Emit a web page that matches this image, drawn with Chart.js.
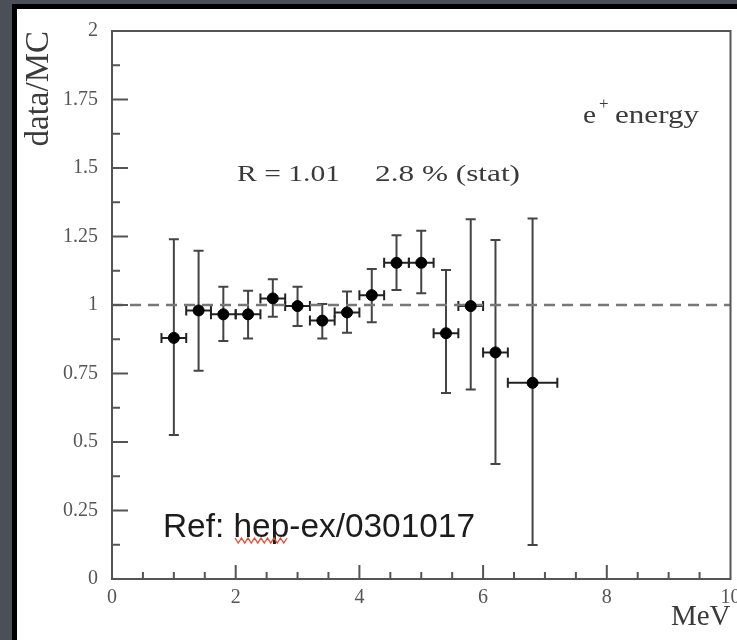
<!DOCTYPE html>
<html>
<head>
<meta charset="utf-8">
<script src="https://cdn.jsdelivr.net/npm/chart.js@4.4.1/dist/chart.umd.min.js"></script>
<style>
    html, body { margin: 0; padding: 0; background: #4b4f58; }
    #wrap { width: 737px; height: 640px; }
</style>
</head>
<body>
<div id="wrap"><canvas id="ratio-chart" width="737" height="640"></canvas></div>
<script>
// e+ energy bins (MeV): centre and half width
const binCentres = [1.0, 1.4, 1.8, 2.2, 2.6, 3.0, 3.4, 3.8, 4.2, 4.6, 5.0, 5.4, 5.8, 6.2, 6.8];
const binHalfWidths = [0.2, 0.2, 0.2, 0.2, 0.2, 0.2, 0.2, 0.2, 0.2, 0.2, 0.2, 0.2, 0.2, 0.2, 0.4];
// data/MC ratio and the ends of its error bars
const ratioValues = [0.88, 0.98, 0.966, 0.966, 1.024, 0.996, 0.943, 0.973, 1.036, 1.154, 1.154, 0.897, 0.996, 0.827, 0.716];
const ratioHigh = [1.24, 1.198, 1.067, 1.052, 1.094, 1.067, 1.004, 1.049, 1.131, 1.255, 1.271, 1.128, 1.313, 1.237, 1.316];
const ratioLow = [0.526, 0.76, 0.869, 0.878, 0.957, 0.923, 0.878, 0.899, 0.937, 1.055, 1.043, 0.679, 0.692, 0.42, 0.124];
// reference line and tick labels
const unityLevel = 1;
const yTickLabels = ['0', '0.25', '0.5', '0.75', '1', '1.25', '1.5', '1.75', '2'];
const xTickLabels = ['0', '2', '4', '6', '8', '10'];

const serif = '"Liberation Serif", "DejaVu Serif", serif';

// dark slide background, black frame and white panel
const backdrop = {
    id: 'backdrop',
    beforeDraw: (chart) => {
        const { ctx, width, height } = chart;
        ctx.save();
        ctx.fillStyle = '#4b4f58';
        ctx.fillRect(0, 0, width, height);
        ctx.fillStyle = '#000';
        ctx.fillRect(12, 4, width - 12, height - 4);
        ctx.fillStyle = '#fff';
        ctx.fillRect(17, 9, width - 17, height - 9);
        ctx.restore();
    }
};

// vertical and horizontal error bars, drawn under the markers
const errorBars = {
    id: 'errorBars',
    beforeDatasetsDraw: (chart) => {
        const { ctx, scales: { x, y } } = chart;
        ctx.save();
        ctx.lineWidth = 2;
        binCentres.forEach((c, i) => {
            const px = x.getPixelForValue(c);
            const py = y.getPixelForValue(ratioValues[i]);
            const top = y.getPixelForValue(ratioHigh[i]);
            const bot = y.getPixelForValue(ratioLow[i]);
            const left = x.getPixelForValue(c - binHalfWidths[i]);
            const right = x.getPixelForValue(c + binHalfWidths[i]);
            ctx.strokeStyle = '#444';
            ctx.beginPath();
            ctx.moveTo(px, top); ctx.lineTo(px, bot);
            ctx.moveTo(px - 5, top); ctx.lineTo(px + 5, top);
            ctx.moveTo(px - 5, bot); ctx.lineTo(px + 5, bot);
            ctx.stroke();
            ctx.strokeStyle = '#222';
            ctx.beginPath();
            ctx.moveTo(left, py); ctx.lineTo(right, py);
            ctx.moveTo(left, py - 5); ctx.lineTo(left, py + 5);
            ctx.moveTo(right, py - 5); ctx.lineTo(right, py + 5);
            ctx.stroke();
        });
        ctx.restore();
    }
};

// box round the plot and inward ticks
const axisFrame = {
    id: 'axisFrame',
    afterDraw: (chart) => {
        const { ctx, chartArea: a, scales: { x, y } } = chart;
        ctx.save();
        ctx.strokeStyle = '#555';
        ctx.lineWidth = 2;
        ctx.strokeRect(a.left, a.top, a.right - a.left, a.bottom - a.top);
        ctx.beginPath();
        for (let i = 1; i <= 16; i++) {
            const py = y.getPixelForValue(i * 0.125);
            ctx.moveTo(a.left, py);
            ctx.lineTo(a.left + (i % 2 === 0 ? 16 : 8), py);
        }
        for (let i = 1; i < 20; i++) {
            const px = x.getPixelForValue(i * 0.5);
            ctx.moveTo(px, a.bottom);
            ctx.lineTo(px, a.bottom - (i % 4 === 0 ? 14 : 7));
        }
        ctx.stroke();
        ctx.restore();
    }
};

// draws text stretched to a given width
const fitText = (ctx, text, x, y, width) => {
    const w = ctx.measureText(text).width;
    ctx.save();
    ctx.translate(x, y);
    ctx.scale(width / w, 1);
    ctx.fillText(text, 0, 0);
    ctx.restore();
};

// labels inside the frame
const notes = {
    id: 'notes',
    afterDraw: (chart) => {
        const { ctx } = chart;
        ctx.save();
        ctx.textBaseline = 'alphabetic';
        ctx.textAlign = 'left';
        ctx.fillStyle = '#3a3a3a';
        ctx.font = `24px ${serif}`;
        fitText(ctx, 'R = 1.01', 237, 181, 103);
        fitText(ctx, '2.8 % (stat)', 375, 181, 145);

        ctx.font = `26px ${serif}`;
        fitText(ctx, 'e', 583, 123, 13);
        fitText(ctx, 'energy', 615, 123, 84);
        ctx.font = `17px ${serif}`;
        ctx.fillText('+', 599, 109);

        ctx.fillStyle = '#1c1c1c';
        ctx.font = '33px "Liberation Sans", Arial, sans-serif';
        fitText(ctx, 'Ref: hep-ex/0301017', 163, 537, 312);

        // spell-check squiggle under "hep"
        ctx.strokeStyle = '#e8492f';
        ctx.lineWidth = 1.3;
        ctx.beginPath();
        for (let i = 0, px = 235; px <= 287; i++, px += 3.25) {
            const py = i % 2 === 0 ? 538 : 543;
            if (i === 0) ctx.moveTo(px, py); else ctx.lineTo(px, py);
        }
        ctx.stroke();
        ctx.restore();
    }
};

const points = binCentres.map((c, i) => ({ x: c, y: ratioValues[i] }));

new Chart(document.getElementById('ratio-chart'), {
    type: 'scatter',
    data: {
        datasets: [{
            label: 'data/MC',
            data: points,
            backgroundColor: '#000',
            borderColor: '#000',
            pointRadius: 5.5,
            pointHoverRadius: 5.5,
            order: 1
        }, {
            label: 'unity',
            type: 'line',
            data: [{ x: 0, y: unityLevel }, { x: 10, y: unityLevel }],
            borderColor: '#777',
            borderWidth: 2.5,
            borderDash: [11, 7],
            pointRadius: 0,
            order: 2
        }]
    },
    options: {
        responsive: false,
        animation: false,
        devicePixelRatio: 1,
        layout: { padding: { top: 31, right: 6, bottom: 0, left: 0 } },
        plugins: {
            legend: { display: false },
            tooltip: { enabled: false }
        },
        scales: {
            x: {
                type: 'linear',
                min: 0,
                max: 10,
                grid: { display: false, drawTicks: false },
                border: { display: false },
                ticks: {
                    stepSize: 2,
                    autoSkip: false,
                    maxRotation: 0,
                    padding: 7,
                    color: '#555',
                    font: { family: serif, size: 20 },
                    callback: (v) => xTickLabels[Math.round(v / 2)]
                },
                title: {
                    display: true,
                    text: 'MeV',
                    align: 'end',
                    color: '#3a3a3a',
                    font: { family: serif, size: 29 },
                    padding: { top: 0, bottom: 5 }
                },
                afterFit: (scale) => {
                    scale.height = 61;
                    scale.paddingLeft = 0;
                    scale.paddingRight = 0;
                }
            },
            y: {
                type: 'linear',
                min: 0,
                max: 2,
                grid: { display: false, drawTicks: false },
                border: { display: false },
                ticks: {
                    stepSize: 0.25,
                    autoSkip: false,
                    padding: 14,
                    color: '#555',
                    font: { family: serif, size: 20 },
                    callback: (v) => yTickLabels[Math.round(v * 4)]
                },
                title: {
                    display: true,
                    text: 'data/MC',
                    align: 'end',
                    color: '#3a3a3a',
                    font: { family: serif, size: 33 },
                    padding: { top: 20, bottom: 0 }
                },
                afterFit: (scale) => {
                    scale.width = 112;
                    scale.paddingTop = 0;
                    scale.paddingBottom = 0;
                }
            }
        }
    },
    plugins: [backdrop, errorBars, axisFrame, notes]
});
</script>
</body>
</html>
